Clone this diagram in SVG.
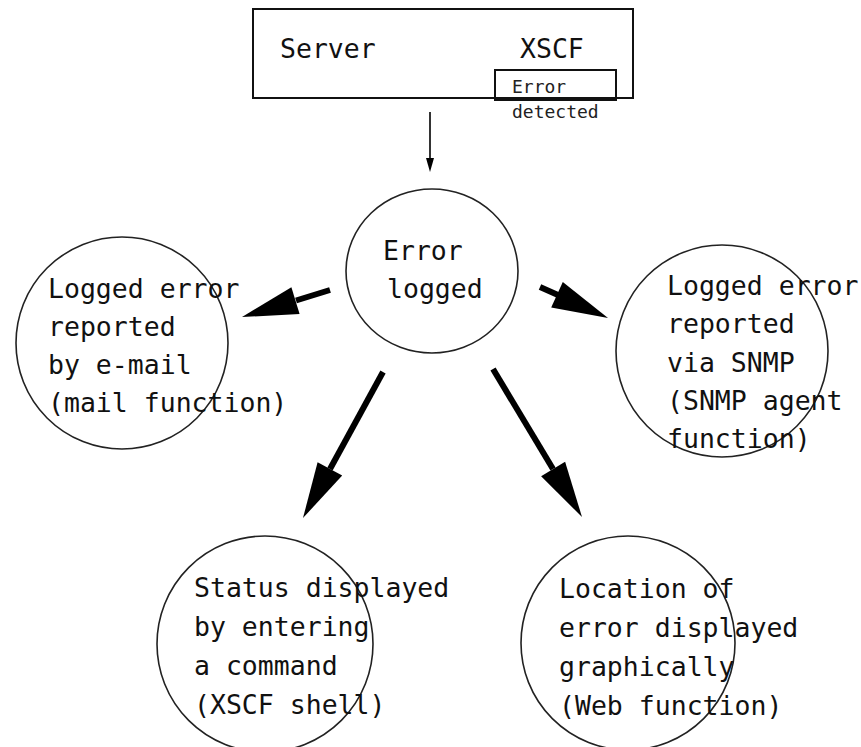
<svg xmlns="http://www.w3.org/2000/svg" width="861" height="747" viewBox="0 0 861 747">
<style>
  .bg{fill:#fff}
  .box{fill:none;stroke:#111;stroke-width:2}
  .node{fill:none;stroke:#222;stroke-width:1.6}
  .t{font-family:"DejaVu Sans Mono","Liberation Mono",monospace;font-size:26.5px;fill:#111}
  .s{font-family:"DejaVu Sans Mono","Liberation Mono",monospace;font-size:18px;fill:#222}
  .shaft{stroke:#000;stroke-width:6;fill:none}
  .head{fill:#000}
</style>
<rect class="bg" x="0" y="0" width="861" height="747"/>

<g id="server">
  <rect class="box" x="253" y="9" width="380" height="89"/>
  <text class="t" x="280" y="58">Server</text>
  <text class="t" x="520" y="58">XSCF</text>
</g>
<g id="error-detected">
  <rect class="box" x="495" y="70" width="121" height="30"/>
  <text class="s" x="512" y="93">Error</text>
  <text class="s" x="512" y="118">detected</text>
</g>

<g id="error-logged">
  <ellipse class="node" cx="432" cy="271" rx="86" ry="82"/>
  <text class="t" x="383" y="260">Error</text>
  <text class="t" x="387" y="298">logged</text>
</g>

<g id="mail">
  <circle class="node" cx="122" cy="343" r="106"/>
  <text class="t" x="48" y="298">Logged error</text>
  <text class="t" x="48" y="336">reported</text>
  <text class="t" x="48" y="374">by e-mail</text>
  <text class="t" x="48" y="412">(mail function)</text>
</g>

<g id="snmp">
  <circle class="node" cx="722" cy="351" r="106"/>
  <text class="t" x="667" y="295">Logged error</text>
  <text class="t" x="667" y="333">reported</text>
  <text class="t" x="667" y="372">via SNMP</text>
  <text class="t" x="667" y="410">(SNMP agent</text>
  <text class="t" x="667" y="448">function)</text>
</g>

<g id="shell">
  <circle class="node" cx="265" cy="644" r="108"/>
  <text class="t" x="194" y="597">Status displayed</text>
  <text class="t" x="194" y="636">by entering</text>
  <text class="t" x="194" y="675">a command</text>
  <text class="t" x="194" y="714">(XSCF shell)</text>
</g>

<g id="web">
  <circle class="node" cx="628" cy="643" r="107"/>
  <text class="t" x="559" y="598">Location of</text>
  <text class="t" x="559" y="637">error displayed</text>
  <text class="t" x="559" y="676">graphically</text>
  <text class="t" x="559" y="715">(Web function)</text>
</g>

<g id="connectors">
  <line x1="430" y1="112" x2="430" y2="160" stroke="#000" stroke-width="1.6"/>
  <polygon class="head" points="430,172 426,158 434,158"/>

  <line class="shaft" x1="330" y1="290" x2="296" y2="300.5"/>
  <polygon class="head" points="242,317 291.4,287.2 299.6,314"/>

  <line class="shaft" x1="540" y1="287" x2="558" y2="295"/>
  <polygon class="head" points="608,318 551.2,307.5 562.8,282.1"/>

  <line class="shaft" x1="383" y1="372" x2="330" y2="469"/>
  <polygon class="head" points="303,518 317.6,462.2 342.2,475.6"/>

  <line class="shaft" x1="493" y1="369" x2="553" y2="469"/>
  <polygon class="head" points="582,517 541.1,476.2 565.1,461.8"/>
</g>
</svg>
